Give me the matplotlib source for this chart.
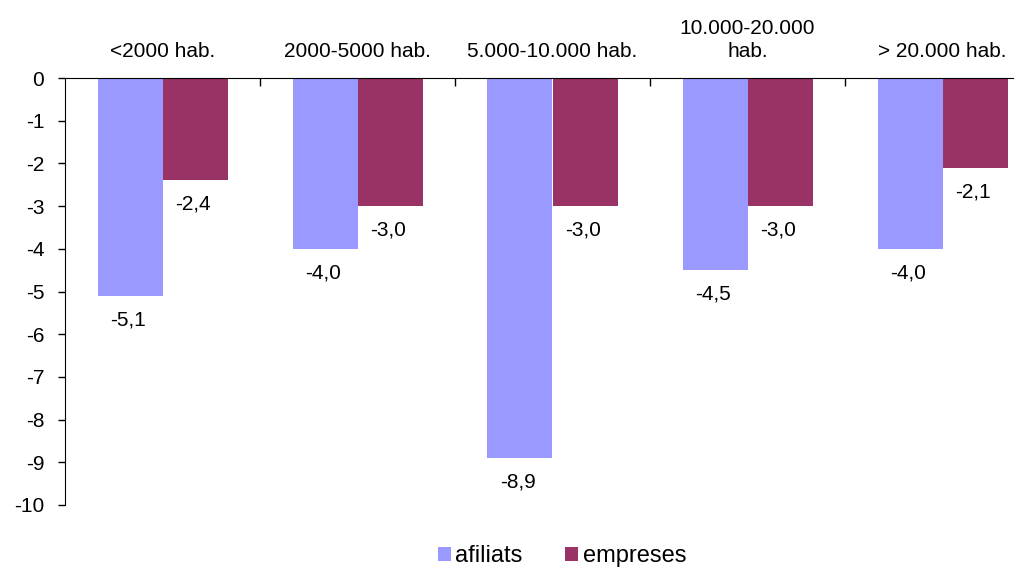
import numpy as np
import matplotlib.pyplot as plt

categories = ["<2000 hab.", "2000-5000 hab.", "5.000-10.000 hab.", "10.000-20.000\nhab.", "> 20.000 hab."]
afiliats = [-5.1, -4.0, -8.9, -4.5, -4.0]
empreses = [-2.4, -3.0, -3.0, -3.0, -2.1]

plt.rcParams["font.family"] = ["Liberation Sans", "DejaVu Sans"]
plt.rcParams["axes.unicode_minus"] = False

fig = plt.figure(figsize=(10.14, 5.67), dpi=100)
# axes runs past the right edge, as in the original crop
ax = fig.add_axes([65 / 1014, 62 / 567, 975 / 1014, 427 / 567])

x = np.arange(len(categories))
w = 1 / 3
b1 = ax.bar(x - w / 2, afiliats, w, color="#9999FF", label="afiliats")
b2 = ax.bar(x + w / 2, empreses, w, color="#993366", label="empreses")

ax.set_xlim(-0.5, len(categories) - 0.5)
ax.set_ylim(-10, 0)
ax.set_yticks(np.arange(-10, 1, 1))
ax.tick_params(axis="y", labelsize=15, length=5, width=1, pad=10)

ax.xaxis.tick_top()
ax.set_xticks(np.arange(0.5, len(categories) - 0.5, 1))
ax.tick_params(axis="x", direction="in", length=6, width=1, labeltop=False)

for side in ["right", "bottom"]:
    ax.spines[side].set_visible(False)

for bars, vals in [(b1, afiliats), (b2, empreses)]:
    for rect, v in zip(bars, vals):
        ax.annotate(f"{v:.1f}".replace(".", ","),
                    (rect.get_x() + rect.get_width() / 2, v),
                    xytext=(-2, -24), textcoords="offset pixels",
                    ha="center", va="center", fontsize=15)

for i, c in enumerate(categories):
    ax.annotate(c, (i, 0), xytext=(0, 17), textcoords="offset pixels",
                ha="center", va="bottom", fontsize=15, linespacing=1.3)

fig.legend(handles=[b1, b2], loc="center", bbox_to_anchor=(562 / 1014, 11 / 567),
           ncol=2, frameon=False, fontsize=17, handlelength=0.55, handleheight=0.55,
           handletextpad=0.2, columnspacing=1.8, borderpad=0.1)

fig.savefig("out.png", dpi=100)
